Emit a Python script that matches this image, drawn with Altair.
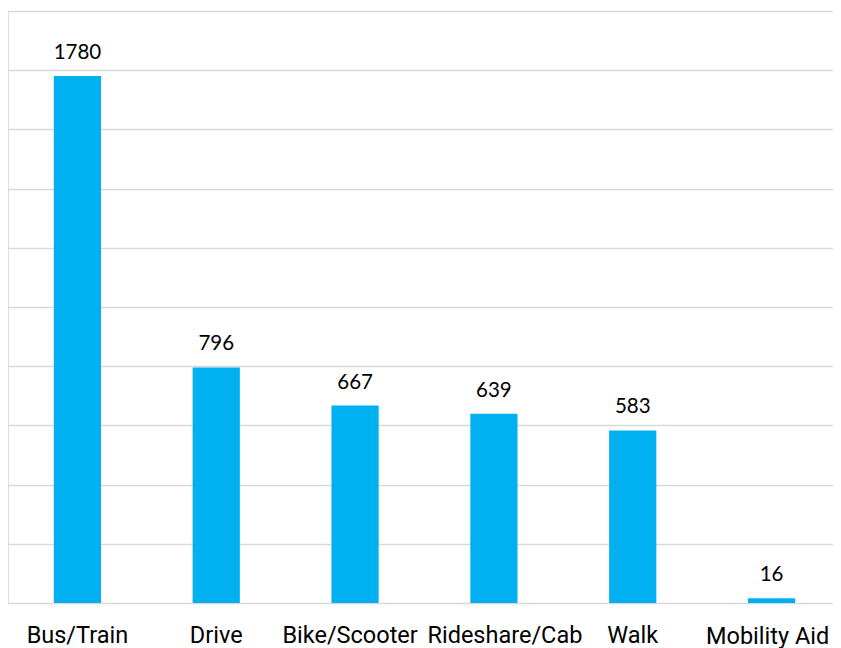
import altair as alt
import pandas as pd

categories = ["Bus/Train", "Drive", "Bike/Scooter", "Rideshare/Cab", "Walk", "Mobility Aid"]
counts = [1780, 796, 667, 639, 583, 16]

df = pd.DataFrame({"mode": categories, "count": counts})

label_offset = {
    "condition": [
        {"test": "datum.value === 'Bike/Scooter'", "value": -5},
        {"test": "datum.value === 'Rideshare/Cab'", "value": 11},
        {"test": "datum.value === 'Mobility Aid'", "value": -4},
    ],
    "value": 0,
}
label_padding = {
    "condition": {"test": "datum.value === 'Mobility Aid'", "value": 21},
    "value": 20,
}

x = alt.X(
    "mode:N",
    sort=categories,
    title=None,
    scale=alt.Scale(paddingInner=0.66, paddingOuter=0.33, range=[0, 833]),
    axis=alt.Axis(
        labelAngle=0,
        labelFont="Roboto",
        labelFontSize=23.5,
        labelColor="#000000",
        labelPadding=label_padding,
        labelOffset=label_offset,
        ticks=False,
        domain=False,
        grid=False,
        labelOverlap=False,
        labelBound=False,
    ),
)
y = alt.Y(
    "count:Q",
    title=None,
    scale=alt.Scale(domain=[0, 2000], nice=False),
    axis=alt.Axis(
        values=list(range(0, 2001, 200)),
        labels=False,
        ticks=False,
        domain=False,
        grid=True,
        gridColor="#d9d9d9",
        gridWidth=1.5,
    ),
)

bars = alt.Chart(df).mark_bar(color="#00B0F0").encode(x=x, y=y)
labels = alt.Chart(df).mark_text(
    font="Lato", fontSize=20.5, color="#000000", baseline="alphabetic", dy=-17
).encode(x=alt.X("mode:N", sort=categories), y="count:Q", text="count:Q")

chart = (
    alt.layer(bars, labels)
    .properties(
        width=825,
        height=592,
        padding={"left": 0, "top": 3, "right": 0, "bottom": 45},
        autosize=alt.AutoSizeParams(type="none"),
    )
    .configure_view(stroke=None)
    .configure(background="#ffffff")
)

chart.save("out.html", embed_options={"renderer": "svg", "actions": False})
